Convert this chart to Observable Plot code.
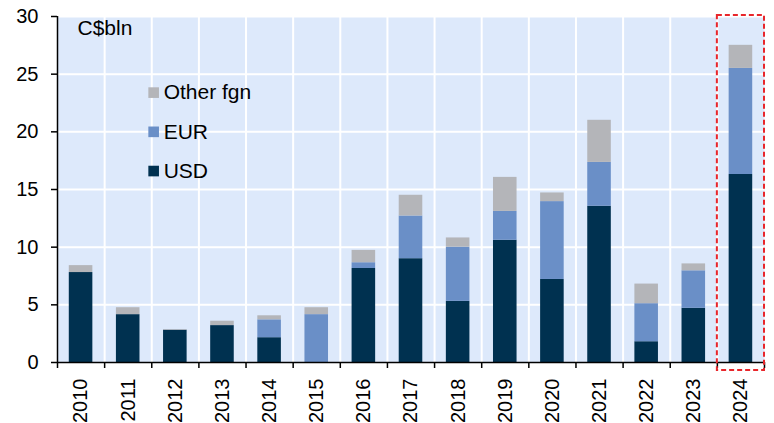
<!DOCTYPE html>
<html>
<head>
<meta charset="utf-8">
<script src="https://cdn.jsdelivr.net/npm/d3@7"></script>
<script src="https://cdn.jsdelivr.net/npm/@observablehq/plot@0.6"></script>
<style>
  html, body { margin: 0; padding: 0; background: #ffffff; }
  #chart svg { display: block; }
</style>
</head>
<body>
<div id="chart"></div>
<script>
const years = [2010, 2011, 2012, 2013, 2014, 2015, 2016, 2017, 2018, 2019, 2020, 2021, 2022, 2023, 2024];
const usd   = [7.8, 4.15, 2.8, 3.2, 2.15, 0, 8.15, 9.0, 5.3, 10.6, 7.2, 13.55, 1.8, 4.7, 16.3];
const eur   = [0, 0, 0, 0, 1.55, 4.15, 0.5, 3.7, 4.7, 2.5, 6.75, 3.8, 3.3, 3.25, 9.2];
const other = [0.6, 0.6, 0.05, 0.38, 0.35, 0.6, 1.07, 1.8, 0.8, 2.95, 0.75, 3.65, 1.7, 0.6, 2.0];
const seriesNames = ["USD", "EUR", "Other fgn"];
const legendOrder = ["Other fgn", "EUR", "USD"];
const yTicks = [0, 5, 10, 15, 20, 25, 30];
const unitLabel = "C$bln";
const highlightYear = 2024;

const colors = ["#003150", "#6a8fc7", "#b4b5b9"];
const font = "'Liberation Sans', Arial, sans-serif";

const rows = [];
years.forEach((yr, i) => {
  rows.push({i, year: yr, series: "USD", value: usd[i]});
  rows.push({i, year: yr, series: "EUR", value: eur[i]});
  rows.push({i, year: yr, series: "Other fgn", value: other[i]});
});

const n = years.length;
const bounds = d3.range(n + 1);
const centers = years.map((_, i) => i + 0.5);
const hi = years.indexOf(highlightYear);

const chart = Plot.plot({
  width: 774,
  height: 423,
  marginLeft: 57,
  marginRight: 10,
  marginTop: 16,
  marginBottom: 61,
  style: {fontFamily: font, fontSize: "20px", color: "#000", background: "#fff"},
  x: {domain: [0, n], axis: null},
  y: {domain: [0, 30], axis: null},
  color: {domain: seriesNames, range: colors},
  marks: [
    Plot.frame({fill: "#dde9fb", stroke: null}),
    Plot.ruleY(yTicks.filter(d => d > 0), {stroke: "#ffffff", strokeWidth: 2}),
    Plot.ruleX(bounds.slice(1, n), {stroke: "#ffffff", strokeWidth: 2}),
    Plot.rectY(rows, {
      x1: d => d.i + 0.25,
      x2: d => d.i + 0.75,
      y: "value",
      fill: "series",
      order: seriesNames
    }),
    Plot.ruleY([0], {stroke: "#000", strokeWidth: 1.5}),
    Plot.ruleX([0], {stroke: "#000", strokeWidth: 1.5}),
    Plot.axisY({
      ticks: yTicks, tickSize: 6, tickPadding: 13, fontSize: 20, label: null,
      tickFormat: d => String(d), stroke: "#000", strokeWidth: 1.5
    }),
    Plot.axisX({
      ticks: bounds, tickSize: 6, tickFormat: () => "", label: null,
      stroke: "#000", strokeWidth: 1.5
    }),
    Plot.axisX({
      ticks: centers, tickSize: 0, tickPadding: 16, tickRotate: -90, fontSize: 20,
      label: null, tickFormat: d => String(years[Math.floor(d)])
    }),
    Plot.rect([hi], {
      x1: d => d, x2: d => d + 1, y1: () => 0, y2: () => 30,
      fill: "none", stroke: "#e8262b", strokeWidth: 2, strokeDasharray: "5,3",
      insetBottom: -8, insetTop: -1
    }),
    Plot.text([unitLabel], {
      frameAnchor: "top-left", dx: 20, dy: 4, lineAnchor: "top",
      textAnchor: "start", fontSize: 21, fill: "#000"
    }),
    Plot.dot(legendOrder, {
      x: () => 2.04, y: (d, i) => 23.4 - i * 3.4,
      symbol: "square", r: 6, fill: d => d, stroke: null
    }),
    Plot.text(legendOrder, {
      x: () => 2.04, y: (d, i) => 23.4 - i * 3.4, text: d => d,
      dx: 10, textAnchor: "start", fontSize: 21, fill: "#000"
    })
  ]
});

document.getElementById("chart").appendChild(chart);
</script>
</body>
</html>
